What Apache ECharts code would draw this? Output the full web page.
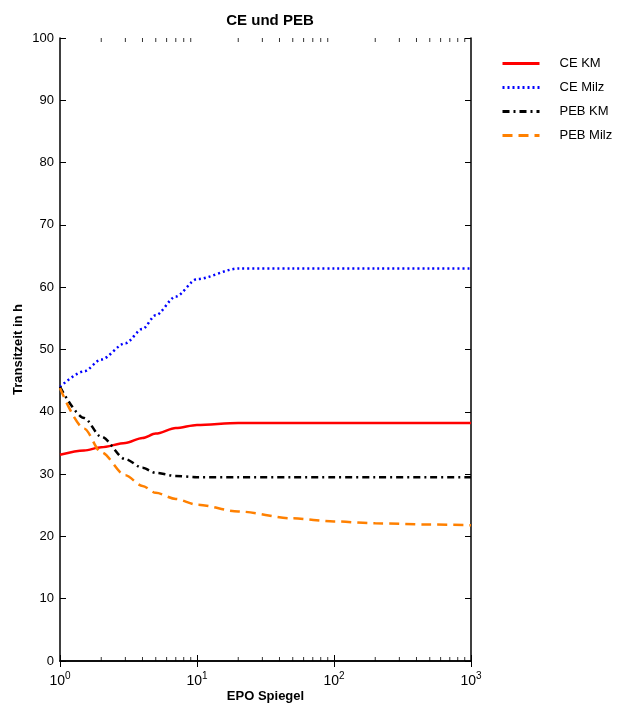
<!DOCTYPE html>
<html>
<head>
<meta charset="utf-8">
<script src="https://cdn.jsdelivr.net/npm/echarts@6/dist/echarts.min.js"></script>
<style>
html,body{margin:0;padding:0;background:#fff;}
#chart{width:618px;height:708px;}
</style>
</head>
<body>
<div id="chart"></div>
<script>
// EPO Spiegel (x, log)
var epo = [1, 1.5, 2, 3, 4, 5, 7, 10, 20, 50, 100, 200, 500, 1000];
var ceKM    = [33.1, 33.8, 34.3, 35.0, 35.8, 36.5, 37.4, 37.9, 38.2, 38.2, 38.2, 38.2, 38.2, 38.2];
var ceMilz  = [44.0, 46.5, 48.4, 51.0, 53.3, 55.5, 58.5, 61.3, 63.0, 63.0, 63.0, 63.0, 63.0, 63.0];
var pebKM   = [44.0, 39.0, 36.0, 32.4, 31.0, 30.2, 29.7, 29.5, 29.5, 29.5, 29.5, 29.5, 29.5, 29.5];
var pebMilz = [43.8, 37.3, 33.5, 29.8, 28.1, 27.0, 26.0, 25.1, 24.0, 22.9, 22.4, 22.1, 21.9, 21.8];
var minorTicks = [2,3,4,5,6,7,8,9,20,30,40,50,60,70,80,90,200,300,400,500,600,700,800,900];

function pairs(ys){
    return epo.map(function(x,i){ return [x, ys[i]]; });
}
function lineSeries(name, ys, color, type){
    return {
        name: name,
        type: 'line',
        data: pairs(ys),
        symbol: 'none',
        smooth: 0.3,
        smoothMonotone: 'x',
        lineStyle: {color: color, width: 2.5, type: type},
        itemStyle: {color: color, opacity: 0}  // hides the legend dot
    };
}

var chart = echarts.init(document.getElementById('chart'));
var font = 'Liberation Sans, Arial, sans-serif';

chart.setOption({
    animation: false,
    textStyle: {fontFamily: font},
    title: {
        text: 'CE und PEB',
        left: 265, top: 8, textAlign: 'center',
        textStyle: {fontSize: 15, fontWeight: 'bold', color: '#000', fontFamily: font}
    },
    legend: {
        orient: 'vertical',
        left: 496, top: 52,
        itemWidth: 37, itemHeight: 14, itemGap: 11,
        data: ['CE KM', 'CE Milz', 'PEB KM', 'PEB Milz'],
        lineStyle: {width: 3},
        textStyle: {fontSize: 13, color: '#000', padding: [0, 0, 0, 15], fontFamily: font}
    },
    grid: {left: 60, right: 147, top: 38, bottom: 47, outerBoundsMode: 'none'},
    xAxis: [{
        type: 'log', logBase: 10, min: 1, max: 1000,
        name: 'EPO Spiegel', nameLocation: 'middle', nameGap: 29,
        nameMoveOverlap: false,
        nameTextStyle: {fontSize: 13, fontWeight: 'bold', color: '#000'},
        axisLine: {lineStyle: {color: '#000', width: 1.5}},
        axisTick: {inside: true, length: 6, lineStyle: {color: '#000'}},
        splitLine: {show: false},
        axisLabel: {
            color: '#000', fontSize: 14, margin: 10,
            formatter: function(v){ return '10{s|' + Math.round(Math.log10(v)) + '}'; },
            rich: {s: {fontSize: 10, padding: [0, 0, 11, 0], color: '#000'}}
        }
    }, {
        type: 'log', logBase: 10, min: 1, max: 1000, position: 'top',
        axisLine: {lineStyle: {color: '#000', width: 1.5}},
        axisTick: {inside: true, length: 6, lineStyle: {color: '#000'}},
        axisLabel: {show: false},
        splitLine: {show: false}
    }],
    yAxis: [{
        type: 'value', min: 0, max: 100, interval: 10,
        name: 'Transitzeit in h', nameLocation: 'middle', nameGap: 35,
        nameMoveOverlap: false,
        nameTextStyle: {fontSize: 13, fontWeight: 'bold', color: '#000'},
        axisLine: {show: true, lineStyle: {color: '#000', width: 1.5}},
        axisTick: {show: true, inside: true, length: 6, lineStyle: {color: '#000'}},
        axisLabel: {color: '#000', fontSize: 13, margin: 6},
        splitLine: {show: false}
    }, {
        type: 'value', min: 0, max: 100, interval: 10, position: 'right',
        axisLine: {show: true, lineStyle: {color: '#000', width: 1.5}},
        axisTick: {show: true, inside: true, length: 6, lineStyle: {color: '#000'}},
        axisLabel: {show: false},
        splitLine: {show: false}
    }],
    series: [
        lineSeries('CE KM', ceKM, '#ff0000', 'solid'),
        lineSeries('CE Milz', ceMilz, '#0000ff', [2, 3]),
        lineSeries('PEB KM', pebKM, '#000000', [7, 4, 2, 4]),
        lineSeries('PEB Milz', pebMilz, '#ff8000', [10, 6]),
        {
            type: 'scatter', silent: true,
            data: minorTicks.map(function(v){ return [v, 0]; }),
            symbol: 'rect', symbolSize: [1, 4], symbolOffset: [0, -2],
            itemStyle: {color: '#000'}, clip: false
        },
        {
            type: 'scatter', silent: true,
            data: minorTicks.map(function(v){ return [v, 100]; }),
            symbol: 'rect', symbolSize: [1, 4], symbolOffset: [0, 2],
            itemStyle: {color: '#000'}, clip: false
        }
    ]
});
</script>
</body>
</html>
